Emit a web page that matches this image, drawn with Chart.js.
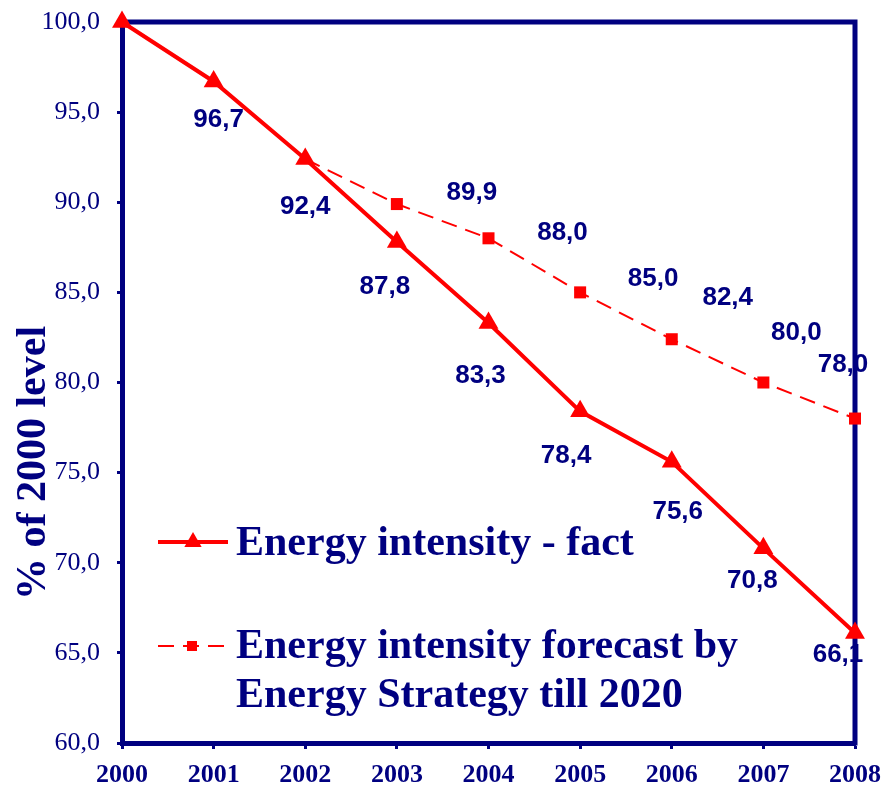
<!DOCTYPE html>
<html>
<head>
<meta charset="utf-8">
<script src="https://cdn.jsdelivr.net/npm/chart.js@4/dist/chart.umd.min.js"></script>
<style>
  html, body { margin: 0; padding: 0; background: #ffffff; }
  #wrap { width: 881px; height: 787px; }
</style>
</head>
<body>
<div id="wrap"><canvas id="chart" width="881" height="787"></canvas></div>
<script>
// ---- data ----
const years = ['2000', '2001', '2002', '2003', '2004', '2005', '2006', '2007', '2008'];
const factValues = [100.0, 96.7, 92.4, 87.8, 83.3, 78.4, 75.6, 70.8, 66.1];
const forecastValues = [null, null, 92.4, 89.9, 88.0, 85.0, 82.4, 80.0, 78.0];
const yTickValues = [60, 65, 70, 75, 80, 85, 90, 95, 100];
const yTickLabels = ['60,0', '65,0', '70,0', '75,0', '80,0', '85,0', '90,0', '95,0', '100,0'];
const factName = ['Energy intensity - fact'];
const forecastName = ['Energy intensity forecast by', 'Energy Strategy till 2020'];
const axisTitle = '% of 2000 level';

// ---- styling ----
const NAVY = '#000080';
const RED = '#ff0000';
const SERIF = '"Liberation Serif", "Times New Roman", serif';
const SANS = '"Liberation Sans", Arial, sans-serif';

const fmt = v => v.toFixed(1).replace('.', ',');

// where each value label sits relative to its point (px)
const factLabelShift = [null, [5, 38], [0, 48], [-12, 45], [-8, 53], [-14, 44], [6, 50], [-11, 32], [-17, 22]];
const forecastLabelShift = [null, null, null, [75, -11], [74, -5], [73, -14], [56, -41], [33, -50], [-12, -54]];

// value labels, then the top/right frame, underneath the series
const labelsAndFrame = {
  id: 'labelsAndFrame',
  beforeDatasetsDraw(chart) {
    const ctx = chart.ctx;
    const a = chart.chartArea;
    ctx.save();
    ctx.fillStyle = NAVY;
    ctx.font = 'bold 26px ' + SANS;
    ctx.textAlign = 'center';
    ctx.textBaseline = 'middle';
    [[0, factLabelShift], [1, forecastLabelShift]].forEach(([di, shifts]) => {
      const meta = chart.getDatasetMeta(di);
      const values = chart.data.datasets[di].data;
      meta.data.forEach((pt, i) => {
        const s = shifts[i];
        if (!s || values[i] == null) return;
        ctx.fillText(fmt(values[i]), pt.x + s[0], pt.y + s[1]);
      });
    });
    ctx.strokeStyle = NAVY;
    ctx.lineWidth = 5;
    ctx.beginPath();
    ctx.moveTo(a.left - 2.5, a.top);
    ctx.lineTo(a.right, a.top);
    ctx.lineTo(a.right, a.bottom + 2.5);
    ctx.stroke();
    ctx.restore();
  },
  afterDraw(chart) {
    const ctx = chart.ctx;
    ctx.save();
    // vertical axis title
    ctx.fillStyle = NAVY;
    ctx.font = 'bold 42px ' + SERIF;
    ctx.textAlign = 'center';
    ctx.textBaseline = 'alphabetic';
    ctx.translate(45, 463);
    ctx.rotate(-Math.PI / 2);
    ctx.fillText(axisTitle, 0, 0);
    ctx.restore();

    // legend inside the plot area
    ctx.save();
    const entries = [
      { ds: chart.data.datasets[0], lines: factName, y: 542, baselines: [555] },
      { ds: chart.data.datasets[1], lines: forecastName, y: 646, baselines: [658, 707] }
    ];
    entries.forEach(e => {
      ctx.strokeStyle = e.ds.borderColor;
      ctx.lineWidth = e.ds.borderWidth;
      ctx.setLineDash(e.ds.borderDash || []);
      ctx.beginPath();
      ctx.moveTo(158, e.y);
      ctx.lineTo(228, e.y);
      ctx.stroke();
      ctx.setLineDash([]);
      ctx.fillStyle = e.ds.pointBackgroundColor;
      ctx.beginPath();
      if (e.ds.pointStyle === 'triangle') {
        const r = 10;
        ctx.moveTo(193, e.y - r);
        ctx.lineTo(193 + r * 0.866, e.y + r * 0.5);
        ctx.lineTo(193 - r * 0.866, e.y + r * 0.5);
        ctx.closePath();
      } else {
        ctx.rect(187, e.y - 5, 10, 10);
      }
      ctx.fill();
      ctx.fillStyle = NAVY;
      ctx.font = 'bold 42px ' + SERIF;
      ctx.textAlign = 'left';
      ctx.textBaseline = 'alphabetic';
      e.lines.forEach((t, k) => ctx.fillText(t, 236, e.baselines[k]));
    });
    ctx.restore();
  }
};

new Chart(document.getElementById('chart'), {
  type: 'line',
  data: {
    labels: years,
    datasets: [
      {
        label: factName.join(' '),
        data: factValues,
        borderColor: RED,
        borderWidth: 4,
        pointStyle: 'triangle',
        pointRadius: 11.5,
        pointBackgroundColor: RED,
        pointBorderColor: RED,
        pointBorderWidth: 0,
        tension: 0,
        clip: false
      },
      {
        label: forecastName.join(' '),
        data: forecastValues,
        borderColor: RED,
        borderWidth: 2,
        borderDash: [16, 9],
        pointStyle: 'rect',
        pointRadius: ctx => (ctx.dataIndex === 2 ? 0 : 8.5),
        pointBackgroundColor: RED,
        pointBorderColor: RED,
        pointBorderWidth: 0,
        tension: 0,
        spanGaps: false,
        clip: false
      }
    ]
  },
  options: {
    responsive: false,
    animation: false,
    events: [],
    layout: { padding: { top: 22, right: 26, left: 0, bottom: 0 } },
    plugins: {
      legend: { display: false },
      tooltip: { enabled: false }
    },
    scales: {
      x: {
        type: 'category',
        offset: false,
        grid: { drawOnChartArea: false, drawTicks: true, tickLength: 6, tickWidth: 3, tickColor: NAVY },
        border: { display: true, color: NAVY, width: 5 },
        ticks: {
          color: NAVY,
          font: { family: SERIF, size: 26, weight: 'bold' },
          padding: 11,
          maxRotation: 0,
          autoSkip: false
        },
        afterFit(scale) {
          scale.height = 44;
          scale.paddingLeft = 0;
          scale.paddingRight = 0;
        }
      },
      y: {
        min: 60,
        max: 100,
        afterBuildTicks(scale) { scale.ticks = yTickValues.map(v => ({ value: v })); },
        grid: { drawOnChartArea: false, drawTicks: true, tickLength: 5, tickWidth: 3, tickColor: NAVY },
        border: { display: true, color: NAVY, width: 5 },
        ticks: {
          color: NAVY,
          font: { family: SERIF, size: 26 },
          padding: 17,
          callback: v => yTickLabels[yTickValues.indexOf(v)]
        },
        afterFit(scale) {
          scale.width = 122;
          scale.paddingTop = 0;
          scale.paddingBottom = 0;
        }
      }
    }
  },
  plugins: [labelsAndFrame]
});
</script>
</body>
</html>
